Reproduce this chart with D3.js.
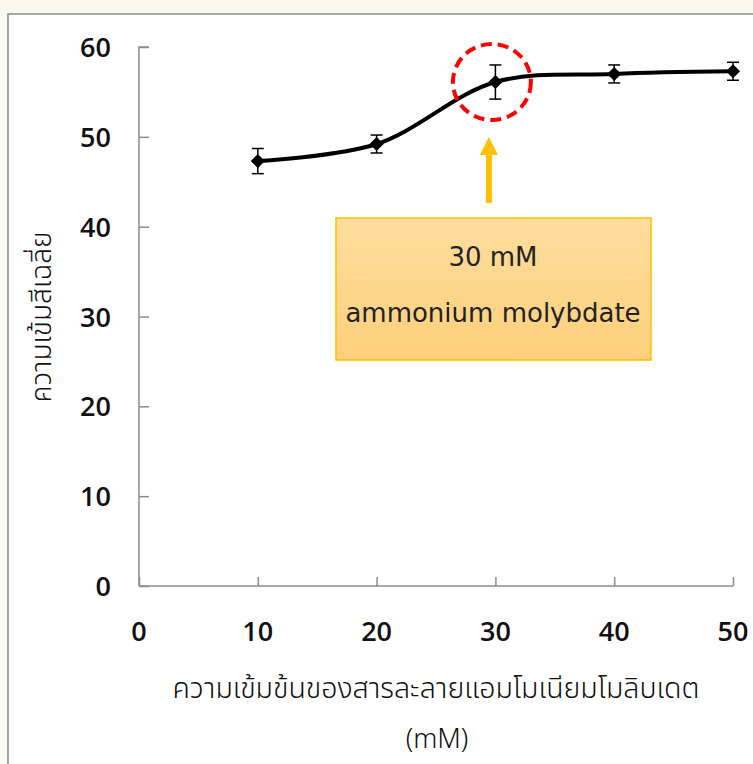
<!DOCTYPE html>
<html><head><meta charset="utf-8">
<script src="https://cdn.jsdelivr.net/npm/d3@7"></script>
<style>html,body{margin:0;padding:0;background:#fbfaf1;}svg{display:block;}</style>
</head><body>
<script>
const concentrations = [10, 20, 30, 40, 50];
const meanIntensity = [47.3, 49.2, 56.1, 57.0, 57.3];
const errorValues = [1.4, 1.0, 1.9, 1.0, 1.0];
const xTicks = [0, 10, 20, 30, 40, 50];
const yTicks = [0, 10, 20, 30, 40, 50, 60];
const yLabel = "ความเข้มสีเฉลี่ย";
const xLabel = "ความเข้มข้นของสารละลายแอมโมเนียมโมลิบเดต";
const xUnit = "(mM)";
const noteLines = ["30 mM", "ammonium molybdate"];
const highlightX = 30;

const W = 753, H = 764;
const svg = d3.select("body").append("svg").attr("width", W).attr("height", H);

// frame
svg.append("rect").attr("x", 8).attr("y", 14).attr("width", W).attr("height", H)
  .attr("fill", "#fff").attr("stroke", "#8a8a8a").attr("stroke-width", 1.5);

const x = d3.scaleLinear().domain([0, 50]).range([139, 733]);
const y = d3.scaleLinear().domain([0, 60]).range([586, 47]);
const axisColor = "#8c8c8c";
const tickFont = "'Open Sans', 'DejaVu Sans', sans-serif";

// y axis (ticks inward)
const gy = svg.append("g").attr("transform", `translate(${x(0)},0)`)
  .call(d3.axisRight(y).tickValues(yTicks).tickSize(10).tickFormat(""));
gy.select(".domain").attr("d", `M10,${y(60)}H0V${y(0)}`).attr("stroke", axisColor).attr("stroke-width", 1.5);
gy.selectAll(".tick line").attr("stroke", axisColor).attr("stroke-width", 1.5);
svg.append("g").selectAll("text").data(yTicks).join("text")
  .attr("x", 111).attr("y", d => y(d) + 10)
  .attr("text-anchor", "end").attr("font-family", tickFont).attr("font-weight", 600)
  .attr("font-size", 27).attr("fill", "#111").text(d => d);

// x axis (ticks inward)
const gx = svg.append("g").attr("transform", `translate(0,${y(0)})`)
  .call(d3.axisTop(x).tickValues(xTicks).tickSize(9).tickFormat(""));
gx.select(".domain").attr("d", `M${x(0)},0H${x(50)}`).attr("stroke", axisColor).attr("stroke-width", 1.5);
gx.selectAll(".tick line").attr("stroke", axisColor).attr("stroke-width", 1.5);
svg.append("g").selectAll("text").data(xTicks).join("text")
  .attr("x", d => x(d)).attr("y", 641)
  .attr("text-anchor", "middle").attr("font-family", tickFont).attr("font-weight", 600)
  .attr("font-size", 27).attr("fill", "#111").text(d => d);

// axis titles
const thaiFont = "'Noto Sans Thai', 'Noto Sans', 'DejaVu Sans', sans-serif";
svg.append("text").attr("transform", "translate(51,317) rotate(-90)")
  .attr("text-anchor", "middle").attr("font-family", thaiFont).attr("font-size", 28)
  .attr("font-weight", 300).attr("fill", "#111").text(yLabel);
svg.append("text").attr("x", 436).attr("y", 698)
  .attr("text-anchor", "middle").attr("font-family", thaiFont).attr("font-size", 28.5)
  .attr("font-weight", 300).attr("fill", "#111").text(xLabel);
svg.append("text").attr("x", 437).attr("y", 748)
  .attr("text-anchor", "middle").attr("font-family", "'Noto Sans', sans-serif").attr("font-size", 27)
  .attr("font-weight", 300).attr("fill", "#111").text(xUnit);

const data = concentrations.map((c, i) => ({x: c, y: meanIntensity[i], e: errorValues[i]}));

// error bars
const eb = svg.append("g").attr("stroke", "#000").attr("stroke-width", 1.5);
data.forEach(d => {
  eb.append("line").attr("x1", x(d.x)).attr("x2", x(d.x)).attr("y1", y(d.y - d.e)).attr("y2", y(d.y + d.e));
  eb.append("line").attr("x1", x(d.x) - 6).attr("x2", x(d.x) + 6).attr("y1", y(d.y + d.e)).attr("y2", y(d.y + d.e));
  eb.append("line").attr("x1", x(d.x) - 6).attr("x2", x(d.x) + 6).attr("y1", y(d.y - d.e)).attr("y2", y(d.y - d.e));
});

// smoothed line
svg.append("path").datum(data)
  .attr("d", d3.line().x(d => x(d.x)).y(d => y(d.y)).curve(d3.curveCatmullRom.alpha(0.5)))
  .attr("fill", "none").attr("stroke", "#000").attr("stroke-width", 4);

// diamond markers
svg.append("g").selectAll("path").data(data).join("path")
  .attr("transform", d => `translate(${x(d.x)},${y(d.y)}) rotate(45)`)
  .attr("d", d3.symbol().type(d3.symbolSquare).size(100))
  .attr("fill", "#000");

// highlight ellipse
const hi = data.find(d => d.x === highlightX);
svg.append("ellipse").attr("cx", x(hi.x) - 3.5).attr("cy", y(hi.y))
  .attr("rx", 39).attr("ry", 38)
  .attr("fill", "none").attr("stroke", "#ff0000").attr("stroke-width", 4)
  .attr("stroke-dasharray", "11,6");

// arrow
const ax = x(hi.x) - 6.5;
svg.append("rect").attr("x", ax - 3).attr("y", 152).attr("width", 6).attr("height", 51).attr("fill", "#ffc000");
svg.append("path").attr("d", `M${ax},137L${ax + 9},155L${ax - 9},155Z`).attr("fill", "#ffc000");

// note box
const defs = svg.append("defs");
const grad = defs.append("linearGradient").attr("id", "boxGrad").attr("x1", 0).attr("y1", 0).attr("x2", 0).attr("y2", 1);
grad.append("stop").attr("offset", 0).attr("stop-color", "#fedd9e");
grad.append("stop").attr("offset", 1).attr("stop-color", "#fdd07b");
svg.append("rect").attr("x", 336).attr("y", 218).attr("width", 315).attr("height", 142)
  .attr("fill", "url(#boxGrad)").attr("stroke", "#ffc000").attr("stroke-width", 1.5);
svg.append("g").selectAll("text").data(noteLines).join("text")
  .attr("x", 493).attr("y", (d, i) => 266 + i * 56)
  .attr("text-anchor", "middle").attr("font-family", "'DejaVu Sans', sans-serif")
  .attr("font-size", 26).attr("fill", "#222").text(d => d);
</script>
</body></html>
